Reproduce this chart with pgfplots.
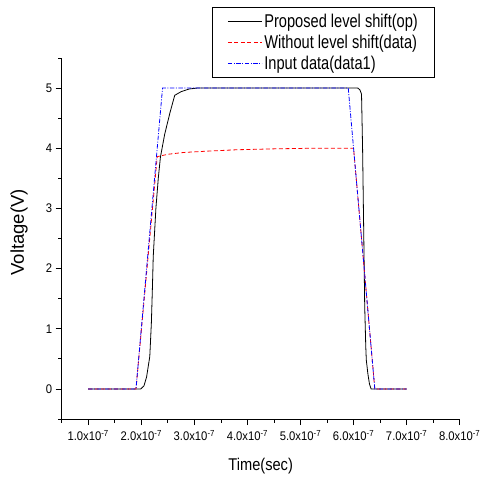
\documentclass[border=0pt]{standalone}
\usepackage{fontspec}
\setmainfont{Liberation Sans}
\newfontfamily\legfont{Liberation Sans}[FakeStretch=0.79]
\newfontfamily\labfont{Liberation Sans}[FakeStretch=0.86]
\newfontfamily\tickfont{Liberation Sans}[FakeStretch=0.9]
\usepackage{pgfplots}
\pgfplotsset{compat=1.18}
\definecolor{inblue}{RGB}{0,0,255}
\definecolor{wored}{RGB}{255,0,0}

\begin{document}
\begin{tikzpicture}
\useasboundingbox (-61.7bp,-58bp) rectangle (421.3bp,419bp);
\begin{axis}[
    width=398bp, height=361bp,
    scale only axis,
    axis x line*=bottom,
    axis y line*=left,
    xmin=0.5, xmax=8,
    ymin=-0.5, ymax=5.5,
    xtick={1,2,3,4,5,6,7,8},
    xticklabels={1.0x10\textsuperscript{-7},2.0x10\textsuperscript{-7},3.0x10\textsuperscript{-7},4.0x10\textsuperscript{-7},
                 5.0x10\textsuperscript{-7},6.0x10\textsuperscript{-7},7.0x10\textsuperscript{-7},8.0x10\textsuperscript{-7}},
    ytick={0,1,2,3,4,5},
    minor xtick={0.5,1.5,2.5,3.5,4.5,5.5,6.5,7.5},
    minor ytick={-0.5,0.5,1.5,2.5,3.5,4.5,5.5},
    tick align=outside,
    major tick length=6bp,
    minor tick length=3.5bp,
    every tick/.style={black, line width=0.8bp},
    axis line style={line width=0.9bp},
    /pgf/number format/assume math mode=true,
    xticklabel style={font=\tickfont\fontsize{12.5bp}{14bp}\selectfont, inner xsep=0pt, yshift=-1.5bp},
    yticklabel style={font=\tickfont\fontsize{12.5bp}{14bp}\selectfont},
    xlabel={Time(sec)},
    ylabel={Voltage(V)},
    xlabel style={font=\labfont\fontsize{17bp}{19bp}\selectfont, at={(axis description cs:0.5,-0.13)}, anchor=center},
    ylabel style={font=\fontsize{18.5bp}{20bp}\selectfont, at={(axis description cs:-0.107,0.517)}, anchor=center, rotate=0},
    legend cell align=left,
    legend style={at={(axis description cs:0.378,1.142)}, anchor=north west,
        draw=black, line width=0.8bp, font=\legfont\fontsize{18.5bp}{19bp}\selectfont,
        inner xsep=15bp, inner ysep=5bp, row sep=2bp},
    legend image code/.code={\draw[#1] (0bp,0bp) -- (34bp,0bp);},
]
\addplot[draw=black, line width=0.8bp] coordinates {
    (1,0) (1.99,0) (2.05,0.05) (2.1,0.2) (2.16,0.54) (2.19,1.1) (2.21,1.7) (2.225,2.2)
    (2.25,2.6) (2.275,3.0) (2.32,3.5) (2.36,3.85) (2.44,4.23) (2.54,4.59) (2.63,4.88)
    (2.75,4.94) (2.9,4.985) (3.05,5.0) (6.08,5.0) (6.12,4.97) (6.15,4.9) (6.17,4.0)
    (6.19,2.7) (6.21,1.37) (6.23,0.7) (6.24,0.48) (6.27,0.25) (6.3,0.08) (6.33,0) (7,0)
};
\addplot[draw=wored, line width=0.8bp, dash pattern=on 4bp off 2.5bp] coordinates {
    (1,0) (1.9,0) (2.3,3.86) (2.5,3.9) (2.8,3.93) (3.2,3.95) (3.8,3.975) (4.5,3.99)
    (5.2,4.0) (6.0,4.0) (6.4,0) (7,0)
};
\addplot[draw=inblue, line width=0.8bp, dash pattern=on 4.5bp off 1.5bp on 1bp off 1.5bp] coordinates {
    (1,0) (1.9,0) (2.4,5) (5.9,5) (6.4,0) (7,0)
};
\legend{Proposed level shift(op), Without level shift(data), Input data(data1)}
\end{axis}
\end{tikzpicture}
\end{document}
